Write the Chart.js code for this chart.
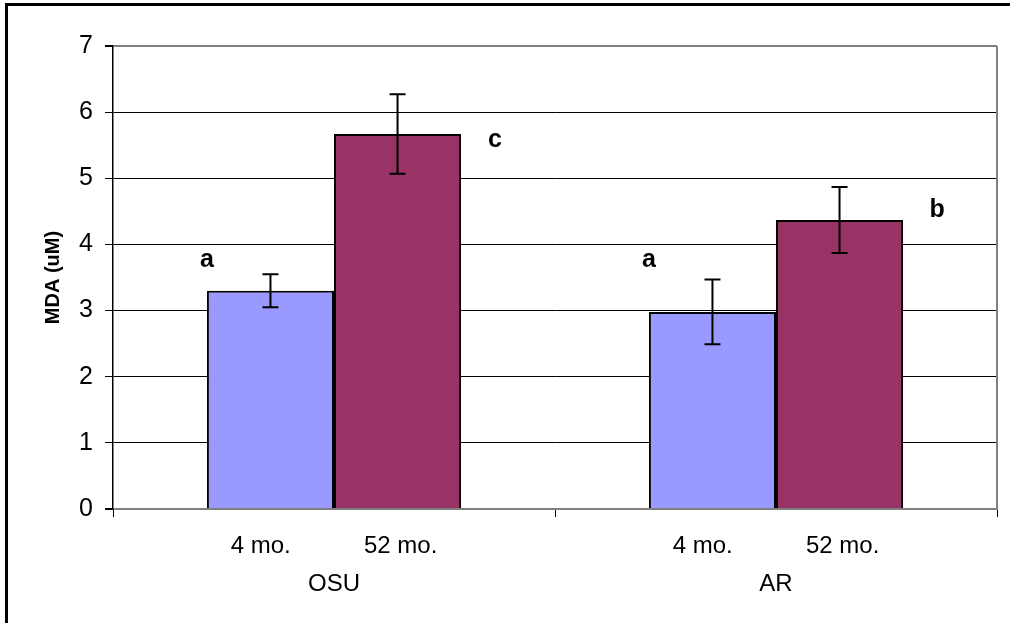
<!DOCTYPE html>
<html>
<head>
<meta charset="utf-8">
<script src="https://cdn.jsdelivr.net/npm/chart.js@4"></script>
<style>
  html, body { margin: 0; padding: 0; background: #fff; }
  #chart { display: block; }
</style>
</head>
<body>
<canvas id="chart" width="1010" height="623"></canvas>
<script>
const groups = ["OSU", "AR"];
const periods = ["4 mo.", "52 mo."];
const mda4 = [3.30, 2.98];
const mda52 = [5.67, 4.37];
const err4 = [0.25, 0.49];
const err52 = [0.60, 0.50];
const yTicks = [0, 1, 2, 3, 4, 5, 6, 7];
// significance letters, dataset 0 then dataset 1 per group
const letters4 = ["a", "a"];
const letters52 = ["c", "b"];
const letterY4 = [3.76, 3.76];
const letterY52 = [5.58, 4.52];

const errs = [err4, err52];

//---------------------------------------------- plugins
const frame = {
    id: "frame",
    beforeDraw(chart) {
        const c = chart.ctx;
        c.save();
        c.strokeStyle = "#000";
        c.lineWidth = 3;
        c.beginPath();
        c.moveTo(6.5, 623);
        c.lineTo(6.5, 4.5);
        c.lineTo(1010, 4.5);
        c.stroke();
        c.restore();
    },
    afterDraw(chart) {
        const a = chart.chartArea;
        const c = chart.ctx;
        c.save();
        c.strokeStyle = "#808080";
        c.lineWidth = 2;
        c.beginPath();
        c.moveTo(a.right, a.top);
        c.lineTo(a.right, a.bottom);
        c.stroke();
        c.restore();
    }
};

const errorBars = {
    id: "errorBars",
    afterDatasetsDraw(chart) {
        const c = chart.ctx;
        const y = chart.scales.y;
        c.save();
        c.strokeStyle = "#000";
        c.lineWidth = 2;
        chart.data.datasets.forEach((ds, d) => {
            chart.getDatasetMeta(d).data.forEach((bar, i) => {
                const v = ds.data[i];
                const hi = y.getPixelForValue(v + errs[d][i]);
                const lo = y.getPixelForValue(v - errs[d][i]);
                c.beginPath();
                c.moveTo(bar.x, hi); c.lineTo(bar.x, lo);
                c.moveTo(bar.x - 8, hi); c.lineTo(bar.x + 8, hi);
                c.moveTo(bar.x - 8, lo); c.lineTo(bar.x + 8, lo);
                c.stroke();
            });
        });
        c.restore();
    }
};

const sigLetters = {
    id: "sigLetters",
    afterDatasetsDraw(chart) {
        const c = chart.ctx;
        const y = chart.scales.y;
        c.save();
        c.fillStyle = "#000";
        c.font = "bold 25px 'Liberation Sans', Arial, sans-serif";
        c.textAlign = "center";
        c.textBaseline = "middle";
        chart.getDatasetMeta(0).data.forEach((bar, i) => {
            c.fillText(letters4[i], bar.x - bar.width / 2, y.getPixelForValue(letterY4[i]));
        });
        chart.getDatasetMeta(1).data.forEach((bar, i) => {
            c.fillText(letters52[i], bar.x + bar.width / 2 + 34, y.getPixelForValue(letterY52[i]));
        });
        c.restore();
    }
};

//---------------------------------------------- grafico
const labels = groups.map(g => [periods.join(" ".repeat(11)), g]);

new Chart(document.getElementById("chart"), {
    type: "bar",
    data: {
        labels,
        datasets: [
            { label: periods[0], data: mda4, backgroundColor: "#9999FF", borderColor: "#000", borderWidth: 2 },
            { label: periods[1], data: mda52, backgroundColor: "#993366", borderColor: "#000", borderWidth: 2 }
        ]
    },
    options: {
        responsive: false,
        animation: false,
        events: [],
        categoryPercentage: 0.575,
        barPercentage: 1.0,
        layout: { padding: { top: 46, right: 13, bottom: 0, left: 0 } },
        plugins: { legend: { display: false }, tooltip: { enabled: false } },
        scales: {
            x: {
                afterFit(scale) { scale.height = 114; },
                grid: { offset: true, drawOnChartArea: false, drawTicks: true, tickLength: 8, tickColor: "#000" },
                border: { color: "#808080", width: 2 },
                ticks: {
                    color: "#000",
                    padding: 10,
                    font: { family: "'Liberation Sans', Arial, sans-serif", size: 24, lineHeight: 1.6 }
                }
            },
            y: {
                min: yTicks[0],
                max: yTicks[yTicks.length - 1],
                afterFit(scale) { scale.width = 113; },
                afterBuildTicks(scale) { scale.ticks = yTicks.map(v => ({ value: v })); },
                grid: {
                    color: (ctx) => ctx.tick && ctx.tick.value === 7 ? "#808080" : (ctx.tick && ctx.tick.value === 0 ? "#808080" : "#000"),
                    lineWidth: (ctx) => ctx.tick && (ctx.tick.value === 7 || ctx.tick.value === 0) ? 2 : 1,
                    tickColor: "#000",
                    tickLength: 8
                },
                border: { color: "#000", width: 1.5 },
                ticks: {
                    color: "#000",
                    padding: 12,
                    font: { family: "'Liberation Sans', Arial, sans-serif", size: 25 }
                },
                title: {
                    display: true,
                    text: "MDA (uM)",
                    color: "#000",
                    font: { family: "'Liberation Sans', Arial, sans-serif", size: 20, weight: "bold" },
                    padding: { top: 41, bottom: 0 }
                }
            }
        }
    },
    plugins: [frame, errorBars, sigLetters]
});
</script>
</body>
</html>
